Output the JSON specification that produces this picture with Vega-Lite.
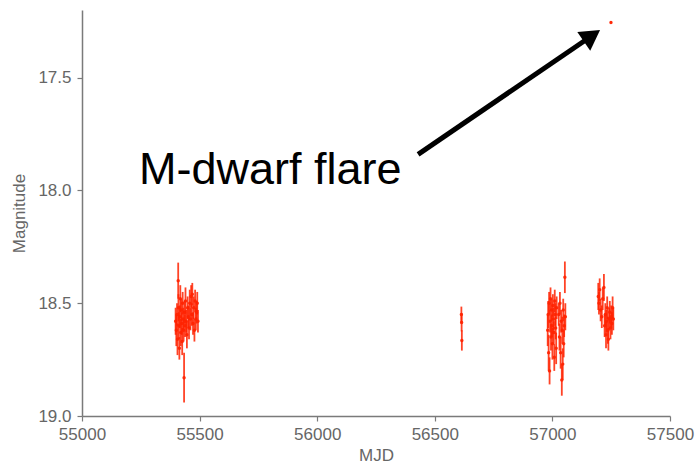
{
  "$schema": "https://vega.github.io/schema/vega-lite/v6.json",
  "autosize": "none",
  "width": 588,
  "height": 406,
  "padding": {"left": 82, "top": 10, "right": 27, "bottom": 53},
  "background": "white",
  "config": {
    "view": {"stroke": null},
    "axis": {
      "grid": false,
      "labelFlush": false,
      "labelOverlap": false,
      "domainColor": "#7a7a7a",
      "domainWidth": 1.5,
      "tickColor": "#7a7a7a",
      "tickWidth": 1.2,
      "tickSize": 5,
      "labelColor": "#666666",
      "labelFont": "Liberation Sans",
      "labelFontSize": 17,
      "titleColor": "#666666",
      "titleFont": "Liberation Sans",
      "titleFontSize": 17,
      "titleFontWeight": "normal"
    }
  },
  "datasets": {
    "obs": [
      {"mjd": 55398, "mag": 18.58, "err": 0.06},
      {"mjd": 55401, "mag": 18.62, "err": 0.07},
      {"mjd": 55404, "mag": 18.55, "err": 0.05},
      {"mjd": 55406, "mag": 18.66, "err": 0.07},
      {"mjd": 55409, "mag": 18.40, "err": 0.08},
      {"mjd": 55410, "mag": 18.52, "err": 0.06},
      {"mjd": 55412, "mag": 18.60, "err": 0.06},
      {"mjd": 55414, "mag": 18.70, "err": 0.05},
      {"mjd": 55416, "mag": 18.56, "err": 0.05},
      {"mjd": 55418, "mag": 18.48, "err": 0.06},
      {"mjd": 55420, "mag": 18.63, "err": 0.06},
      {"mjd": 55422, "mag": 18.53, "err": 0.05},
      {"mjd": 55424, "mag": 18.59, "err": 0.05},
      {"mjd": 55426, "mag": 18.67, "err": 0.06},
      {"mjd": 55428, "mag": 18.50, "err": 0.05},
      {"mjd": 55430, "mag": 18.57, "err": 0.05},
      {"mjd": 55432, "mag": 18.62, "err": 0.05},
      {"mjd": 55434, "mag": 18.83, "err": 0.11},
      {"mjd": 55436, "mag": 18.54, "err": 0.05},
      {"mjd": 55438, "mag": 18.60, "err": 0.05},
      {"mjd": 55440, "mag": 18.49, "err": 0.06},
      {"mjd": 55443, "mag": 18.58, "err": 0.05},
      {"mjd": 55446, "mag": 18.64, "err": 0.06},
      {"mjd": 55449, "mag": 18.52, "err": 0.05},
      {"mjd": 55452, "mag": 18.56, "err": 0.05},
      {"mjd": 55455, "mag": 18.61, "err": 0.05},
      {"mjd": 55458, "mag": 18.50, "err": 0.06},
      {"mjd": 55461, "mag": 18.57, "err": 0.05},
      {"mjd": 55464, "mag": 18.47, "err": 0.05},
      {"mjd": 55467, "mag": 18.55, "err": 0.05},
      {"mjd": 55469, "mag": 18.46, "err": 0.05},
      {"mjd": 55472, "mag": 18.59, "err": 0.05},
      {"mjd": 55475, "mag": 18.52, "err": 0.05},
      {"mjd": 55478, "mag": 18.62, "err": 0.05},
      {"mjd": 55481, "mag": 18.49, "err": 0.05},
      {"mjd": 55484, "mag": 18.57, "err": 0.05},
      {"mjd": 55487, "mag": 18.54, "err": 0.05},
      {"mjd": 55490, "mag": 18.50, "err": 0.05},
      {"mjd": 55493, "mag": 18.58, "err": 0.05},
      {"mjd": 56613, "mag": 18.55, "err": 0.035},
      {"mjd": 56614, "mag": 18.585, "err": 0.04},
      {"mjd": 56615, "mag": 18.665, "err": 0.045},
      {"mjd": 56980, "mag": 18.62, "err": 0.07},
      {"mjd": 56982, "mag": 18.55, "err": 0.06},
      {"mjd": 56984, "mag": 18.72, "err": 0.08},
      {"mjd": 56986, "mag": 18.50, "err": 0.05},
      {"mjd": 56988, "mag": 18.80, "err": 0.06},
      {"mjd": 56990, "mag": 18.58, "err": 0.05},
      {"mjd": 56992, "mag": 18.48, "err": 0.05},
      {"mjd": 56994, "mag": 18.65, "err": 0.06},
      {"mjd": 56996, "mag": 18.53, "err": 0.05},
      {"mjd": 56998, "mag": 18.60, "err": 0.05},
      {"mjd": 57000, "mag": 18.68, "err": 0.07},
      {"mjd": 57002, "mag": 18.51, "err": 0.05},
      {"mjd": 57004, "mag": 18.57, "err": 0.05},
      {"mjd": 57006, "mag": 18.63, "err": 0.05},
      {"mjd": 57008, "mag": 18.74, "err": 0.06},
      {"mjd": 57010, "mag": 18.49, "err": 0.05},
      {"mjd": 57012, "mag": 18.55, "err": 0.05},
      {"mjd": 57014, "mag": 18.61, "err": 0.05},
      {"mjd": 57016, "mag": 18.70, "err": 0.07},
      {"mjd": 57018, "mag": 18.52, "err": 0.05},
      {"mjd": 57027, "mag": 18.55, "err": 0.05},
      {"mjd": 57030, "mag": 18.65, "err": 0.06},
      {"mjd": 57032, "mag": 18.50, "err": 0.05},
      {"mjd": 57035, "mag": 18.72, "err": 0.07},
      {"mjd": 57037, "mag": 18.58, "err": 0.05},
      {"mjd": 57040, "mag": 18.84, "err": 0.07},
      {"mjd": 57042, "mag": 18.62, "err": 0.06},
      {"mjd": 57044, "mag": 18.77, "err": 0.07},
      {"mjd": 57046, "mag": 18.53, "err": 0.05},
      {"mjd": 57048, "mag": 18.68, "err": 0.06},
      {"mjd": 57050, "mag": 18.60, "err": 0.05},
      {"mjd": 57053, "mag": 18.385, "err": 0.07},
      {"mjd": 57055, "mag": 18.56, "err": 0.06},
      {"mjd": 57195, "mag": 18.47, "err": 0.06},
      {"mjd": 57198, "mag": 18.50, "err": 0.05},
      {"mjd": 57201, "mag": 18.44, "err": 0.05},
      {"mjd": 57205, "mag": 18.53, "err": 0.05},
      {"mjd": 57210, "mag": 18.56, "err": 0.05},
      {"mjd": 57214, "mag": 18.48, "err": 0.05},
      {"mjd": 57219, "mag": 18.43, "err": 0.06},
      {"mjd": 57222, "mag": 18.60, "err": 0.05},
      {"mjd": 57225, "mag": 18.55, "err": 0.05},
      {"mjd": 57228, "mag": 18.64, "err": 0.06},
      {"mjd": 57230, "mag": 18.58, "err": 0.05},
      {"mjd": 57233, "mag": 18.52, "err": 0.05},
      {"mjd": 57236, "mag": 18.62, "err": 0.06},
      {"mjd": 57238, "mag": 18.66, "err": 0.05},
      {"mjd": 57241, "mag": 18.57, "err": 0.05},
      {"mjd": 57244, "mag": 18.54, "err": 0.05},
      {"mjd": 57247, "mag": 18.61, "err": 0.05},
      {"mjd": 57250, "mag": 18.56, "err": 0.05},
      {"mjd": 57253, "mag": 18.59, "err": 0.05},
      {"mjd": 57256, "mag": 18.52, "err": 0.05},
      {"mjd": 57259, "mag": 18.57, "err": 0.05},
      {"mjd": 57249, "mag": 17.255, "err": 0.005}
    ],
    "arrow": [
      {"x": 56429, "y": 17.84, "x2": 57168, "y2": 17.314}
    ],
    "head": [
      {"x": 57168, "y": 17.314}
    ],
    "label": [
      {"x": 55242, "y": 17.97, "text": "M-dwarf flare"}
    ]
  },
  "layer": [
    {
      "data": {"name": "obs"},
      "mark": {"type": "errorbar", "color": "#ff2200", "thickness": 1.8, "opacity": 0.85},
      "encoding": {
        "x": {
          "field": "mjd", "type": "quantitative",
          "scale": {"domain": [55000, 57500], "nice": false, "zero": false},
          "axis": {"title": "MJD", "values": [55000, 55500, 56000, 56500, 57000, 57500], "format": "d", "labelPadding": 5, "titlePadding": 5}
        },
        "y": {
          "field": "mag", "type": "quantitative",
          "scale": {"domain": [17.2, 19.0], "nice": false, "zero": false, "reverse": true},
          "axis": {"title": "Magnitude", "values": [17.5, 18.0, 18.5, 19.0], "format": ".1f", "labelPadding": 6, "titlePadding": 9}
        },
        "yError": {"field": "err"}
      }
    },
    {
      "data": {"name": "obs"},
      "mark": {"type": "point", "filled": true, "color": "#ff2200", "size": 12, "opacity": 0.9},
      "encoding": {
        "x": {"field": "mjd", "type": "quantitative"},
        "y": {"field": "mag", "type": "quantitative"}
      }
    },
    {
      "data": {"name": "arrow"},
      "mark": {"type": "rule", "color": "black", "strokeWidth": 5},
      "encoding": {
        "x": {"field": "x", "type": "quantitative"},
        "y": {"field": "y", "type": "quantitative"},
        "x2": {"field": "x2"},
        "y2": {"field": "y2"}
      }
    },
    {
      "data": {"name": "head"},
      "mark": {"type": "point", "shape": "triangle-up", "filled": true, "color": "black", "opacity": 1, "size": 520, "angle": 55.5},
      "encoding": {
        "x": {"field": "x", "type": "quantitative"},
        "y": {"field": "y", "type": "quantitative"}
      }
    },
    {
      "data": {"name": "label"},
      "mark": {"type": "text", "font": "Liberation Sans", "fontSize": 45, "color": "black", "align": "left", "baseline": "alphabetic"},
      "encoding": {
        "x": {"field": "x", "type": "quantitative"},
        "y": {"field": "y", "type": "quantitative"},
        "text": {"field": "text"}
      }
    }
  ]
}
